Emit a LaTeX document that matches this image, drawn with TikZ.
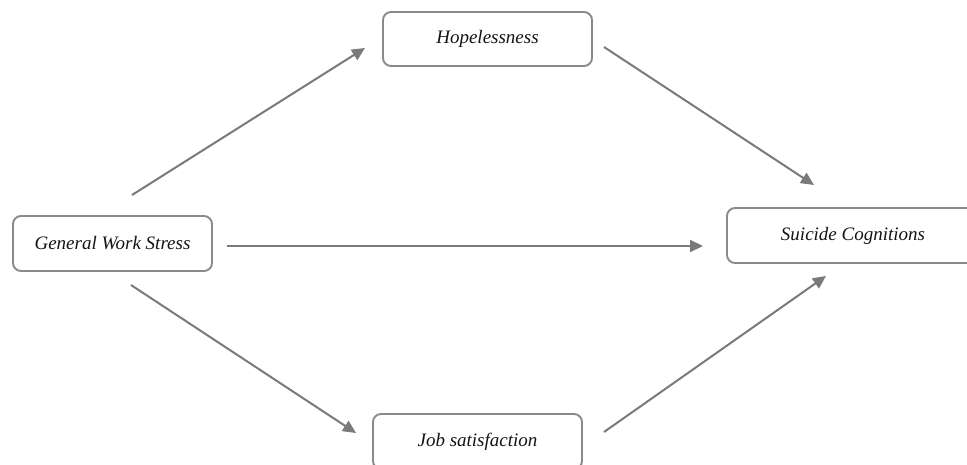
\documentclass[tikz,border=0pt]{standalone}
\usepackage{fontspec}
\setmainfont{Liberation Serif}
\usetikzlibrary{arrows.meta}
\definecolor{boxline}{HTML}{8A8A8A}
\definecolor{arrowgray}{HTML}{7A7A7A}
\definecolor{txt}{HTML}{141414}
\begin{document}
\begin{tikzpicture}[x=1pt,y=-1pt,
  box/.style={draw=boxline, line width=1.9pt, rounded corners=8pt, fill=white,
    inner sep=0pt, text=txt, font=\fontsize{19}{21}\selectfont\itshape},
  conn/.style={draw=arrowgray, line width=2pt, -{Triangle[length=13pt,width=12pt]}}]
\useasboundingbox (0,0) rectangle (967,465);
\fill[white] (0,0) rectangle (967,465);
\node[box, minimum width=209pt, minimum height=54pt] (hope) at (487.5,39) {Hopelessness};
\node[box, minimum width=199pt, minimum height=55pt] (gws) at (112.5,243.5) {General Work Stress};
\node[box, minimum width=209pt, minimum height=55pt] (job) at (477.5,441.5) {Job satisfaction};
\node[box, minimum width=252pt, minimum height=55pt] (sc) at (853,235.5) {Suicide Cognitions};
\coordinate (a1) at (132,195); \coordinate (a2) at (365,48);
\coordinate (b1) at (604,47); \coordinate (b2) at (814,185);
\coordinate (c1) at (227,246); \coordinate (c2) at (703,246);
\coordinate (d1) at (131,285); \coordinate (d2) at (356,433);
\coordinate (e1) at (604,432); \coordinate (e2) at (826,276);
\draw[conn] (a1) -- (a2);
\draw[conn] (b1) -- (b2);
\draw[conn] (c1) -- (c2);
\draw[conn] (d1) -- (d2);
\draw[conn] (e1) -- (e2);
\end{tikzpicture}
\end{document}
